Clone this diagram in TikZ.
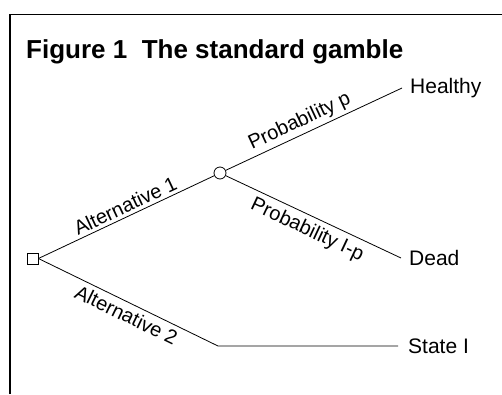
\documentclass[tikz,border=0pt]{standalone}
\usepackage{fontspec}
\setmainfont{Liberation Sans}
\begin{document}
\begin{tikzpicture}[x=1pt,y=-1pt,
  lbl/.style={font=\fontsize{20}{22}\selectfont, inner sep=3pt},
  endlbl/.style={font=\fontsize{21}{23}\selectfont, anchor=west, inner sep=0pt},
  branch/.style={line width=0.8pt},
  frame/.style={line width=1.3pt}]
\useasboundingbox (0,0) rectangle (502,394);
\coordinate (fa) at (10,394);
\coordinate (fb) at (10,14.5);
\coordinate (fc) at (502,14.5);
\draw[frame] (fa) -- (fb) -- (fc);
\node[anchor=base west, inner sep=0pt, font=\fontsize{26}{28}\selectfont\bfseries] (title) at (26,58) {Figure 1\ \ The standard gamble};
\node[draw, line width=0.8pt, minimum size=11pt, inner sep=0pt] (sq) at (32.5,258.5) {};
\node[draw, circle, line width=0.8pt, minimum size=12pt, inner sep=0pt] (ch) at (220,173) {};
\coordinate (h) at (402,88);
\coordinate (d) at (401,258);
\coordinate (bend) at (218,346);
\coordinate (s) at (398,346);
\draw[branch] (sq.east) -- node[lbl, sloped, above, pos=0.52] {Alternative 1} (ch);
\draw[branch] (ch) -- node[lbl, sloped, above, pos=0.45] {Probability p} (h);
\draw[branch] (ch) -- node[lbl, sloped, below, pos=0.5, inner sep=5pt] {Probability I-p} (d);
\draw[branch] (sq.east) -- node[lbl, sloped, below, pos=0.52, inner sep=4.5pt] {Alternative 2} (bend) -- (s);
\node[endlbl] (healthy) at ([xshift=8pt]h) {Healthy};
\node[endlbl] (dead) at ([xshift=8pt]d) {Dead};
\node[endlbl] (state) at ([xshift=10pt]s) {State I};
\end{tikzpicture}
\end{document}
